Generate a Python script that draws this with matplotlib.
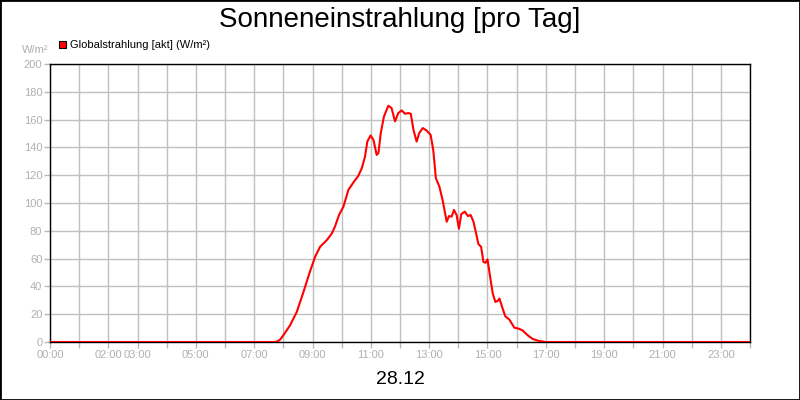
import matplotlib
matplotlib.use("Agg")
import matplotlib.pyplot as plt
from matplotlib.patches import Rectangle

# Data: hour of day and global radiation (W/m²)
hours = [0.0, 7.70, 7.80, 7.89, 8.00, 8.23, 8.46, 8.69, 8.91, 9.09, 9.26, 9.49, 9.66, 9.77, 9.91,
         10.06, 10.23, 10.40, 10.57, 10.69, 10.80, 10.88, 10.99, 11.09, 11.20, 11.26, 11.34,
         11.45, 11.60, 11.71, 11.83, 11.94, 12.06, 12.17, 12.29, 12.37, 12.46, 12.57, 12.66,
         12.78, 12.91, 13.05, 13.14, 13.23, 13.35, 13.46, 13.60, 13.68, 13.77, 13.85, 13.94,
         14.02, 14.10, 14.22, 14.33, 14.42, 14.52, 14.61, 14.69, 14.78, 14.86, 14.93, 15.00,
         15.09, 15.18, 15.27, 15.35, 15.41, 15.50, 15.61, 15.75, 15.92, 16.07, 16.20, 16.38,
         16.55, 16.77, 17.00, 24.0]
radiation = [0, 0, 0.5, 1.7, 4.8, 12, 21.6, 36, 50.5, 61.3, 68.5, 73.3, 78, 83, 91.4,
             97.4, 109.4, 114.7, 119.5, 125, 133.4, 144.2, 148.6, 145.4, 134.6, 135.8, 150.3,
             162.3, 170, 168.3, 158.7, 164.7, 166.6, 164.2, 164.7, 164.2, 152.7, 144.2, 150.3,
             153.9, 152.2, 149, 138.2, 117.8, 111.8, 102.2, 86.5, 90.6, 90.2, 95, 91.4,
             81.5, 92, 93.8, 90.6, 91.4, 86.5, 78, 70.4, 68.5, 57.7, 57, 59.4,
             46.9, 34.9, 28.8, 29.6, 31.3, 25.2, 18.5, 16.1, 10.3, 9.6, 8.4, 4.8,
             2.2, 0.7, 0, 0]

labelled_hours = [0, 2, 3, 5, 7, 9, 11, 13, 15, 17, 19, 21, 23]
y_ticks = list(range(0, 201, 20))

title = "Sonneneinstrahlung [pro Tag]"
date_label = "28.12"
series_name = "Globalstrahlung [akt] (W/m²)"
unit = "W/m²"

plt.rcParams['font.family'] = ['Liberation Sans', 'DejaVu Sans']

fig = plt.figure(figsize=(8, 4), dpi=100)
ax = fig.add_axes([50/800, 58/400, 700/800, 278/400])

gray_txt = '#b0b0b0'
ax.plot(hours, radiation, color='#ff0000', lw=1.5, zorder=3, solid_joinstyle='round')
ax.set_xlim(0, 24)
ax.set_ylim(0, 200)

xt = list(range(0, 25))
ax.set_xticks(xt)
ax.set_xticklabels([f"{h:02d}:00" if h in labelled_hours else "" for h in xt])
ax.set_yticks(y_ticks)
ax.set_yticklabels([str(v) for v in y_ticks])
ax.tick_params(axis='both', colors='#b8b8b8', labelcolor=gray_txt, labelsize=8, length=4, width=1)
ax.tick_params(axis='x', pad=2)
ax.tick_params(axis='y', pad=1.5)
ax.grid(True, color='#c0c0c0', lw=1)
ax.set_axisbelow(True)
for s in ax.spines.values():
    s.set_color('black')
    s.set_linewidth(1)

fig.text(0.5, (400-26.7)/400, title, ha='center', va='baseline', fontsize=20, color='black')
fig.text(0.5, 16/400, date_label, ha='center', va='baseline', fontsize=14, color='black')
fig.text(48/800, (400-53)/400, unit, ha='right', va='baseline', fontsize=8, color=gray_txt)

fig.patches.append(Rectangle((58.5/800, (400-47.5)/400), 7/800, 7/400, transform=fig.transFigure,
                             facecolor='#ff0000', edgecolor='black', lw=0.8, figure=fig))
fig.text(70/800, (400-48.5)/400, series_name, ha='left', va='baseline', fontsize=8, color='black')

fig.patches.append(Rectangle((0, 0), 1, 1, transform=fig.transFigure, fill=False,
                             edgecolor='black', lw=2, figure=fig))

fig.savefig('out.png', dpi=100)
